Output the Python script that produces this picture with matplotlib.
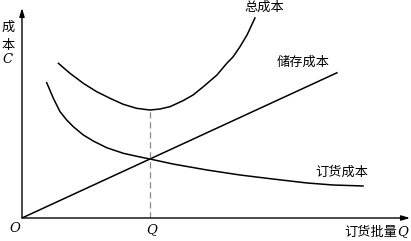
import numpy as np
import matplotlib.pyplot as plt

plt.rcParams['font.family'] = ['Noto Sans CJK SC', 'DejaVu Sans']

# values (Q = 1 at the optimum order quantity)
order_q = [0.193, 0.245, 0.297, 0.349, 0.401, 0.479, 0.557, 0.662, 0.791, 0.922,
           1.0, 1.180, 1.445, 1.703, 1.961, 2.227, 2.430, 2.664]
order_cost = [2.218, 1.962, 1.743, 1.607, 1.497, 1.361, 1.262, 1.152, 1.061, 1.0,
              0.967, 0.885, 0.787, 0.705, 0.639, 0.574, 0.541, 0.525]

store_q = [0.0, 2.46]
store_cost = [0.0, 2.38]

total_q = [0.284, 0.375, 0.479, 0.584, 0.688, 0.791, 0.896, 1.0, 1.078, 1.156,
           1.258, 1.336, 1.414, 1.523, 1.602, 1.648, 1.703, 1.758, 1.820]
total_cost = [2.536, 2.372, 2.208, 2.070, 1.962, 1.864, 1.798, 1.770, 1.787, 1.825,
              1.923, 2.016, 2.148, 2.344, 2.541, 2.639, 2.808, 3.0, 3.279]

q_opt = 1.0
c_min = 1.77

W, H = 411, 241
fig = plt.figure(figsize=(W / 100, H / 100), dpi=100)
ax = fig.add_axes([22 / W, (H - 218) / H, (410 - 22) / W, 210 / H])
ax.set_xlim(0, 388 / 128)
ax.set_ylim(0, 210 / 61)
ax.axis('off')

lw = 1.1
ax.plot(order_q, order_cost, color='black', lw=lw, solid_joinstyle='round')
ax.plot(store_q, store_cost, color='black', lw=lw)
ax.plot(total_q, total_cost, color='black', lw=lw, solid_joinstyle='round')
ax.plot([q_opt, q_opt], [0, c_min], color='#888888', lw=0.9, dashes=(5, 3))

# axes with arrow heads
arrow = dict(arrowstyle='-|>,head_length=0.5,head_width=0.15', color='black', lw=1.0,
             shrinkA=0, shrinkB=0)
ax.annotate('', xy=(1, 0), xytext=(0, 0), xycoords='axes fraction', arrowprops=arrow)
ax.annotate('', xy=(0, 1), xytext=(0, 0), xycoords='axes fraction', arrowprops=arrow)


def px(x, y):
    return (x - 22) / 128, (218 - y) / 61


fs = 9.5
ax.text(*px(264, 7), '总成本', fontsize=fs, ha='center', va='center', clip_on=False)
ax.text(*px(303, 62), '储存成本', fontsize=fs, ha='center', va='center')
ax.text(*px(342, 172), '订货成本', fontsize=fs, ha='center', va='center')
ax.text(*px(371, 232), '订货批量', fontsize=fs, ha='center', va='center', clip_on=False)
ax.text(*px(403, 232), 'Q', fontsize=fs, ha='center', va='center', clip_on=False,
        family='DejaVu Serif', style='italic')
ax.text(*px(152, 230), 'Q', fontsize=fs, ha='center', va='center', clip_on=False,
        family='DejaVu Serif', style='italic')
ax.text(*px(15, 229), 'O', fontsize=fs, ha='center', va='center', clip_on=False,
        family='DejaVu Serif', style='italic')
ax.text(*px(8, 27), '成', fontsize=fs, ha='center', va='center', clip_on=False)
ax.text(*px(8, 45), '本', fontsize=fs, ha='center', va='center', clip_on=False)
ax.text(*px(8, 60), 'C', fontsize=fs, ha='center', va='center', clip_on=False,
        family='DejaVu Serif', style='italic')

fig.savefig('out.png', dpi=100)
